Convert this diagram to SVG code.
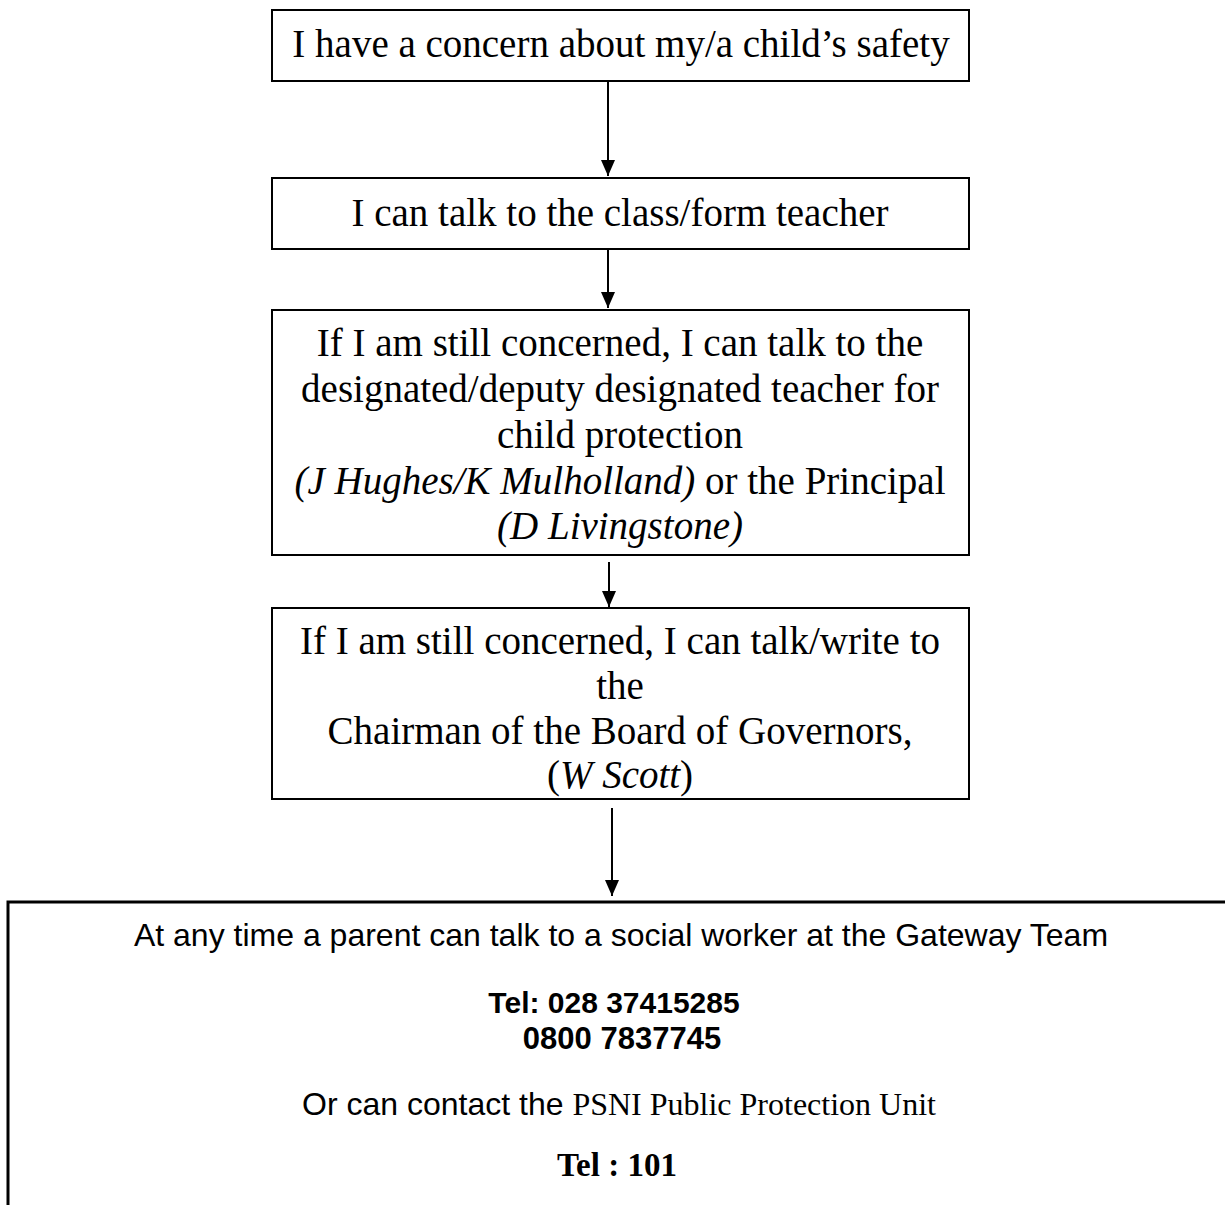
<svg xmlns="http://www.w3.org/2000/svg" width="1225" height="1205" viewBox="0 0 1225 1205">
<style>
.box{fill:#fff;stroke:#000;stroke-width:2}
.t{font-family:"Liberation Serif","Times New Roman",serif;font-size:39px;fill:#000;text-anchor:middle}
.a{font-family:"Liberation Sans",Arial,sans-serif;font-size:32px;fill:#000;text-anchor:middle}
.ab{font-family:"Liberation Sans",Arial,sans-serif;font-size:30px;font-weight:bold;fill:#000;text-anchor:middle}
.tb{font-family:"Liberation Serif","Times New Roman",serif;font-size:33px;font-weight:bold;fill:#000;text-anchor:middle}
.conn{stroke:#000;stroke-width:2;fill:none}
.head{fill:#000}
</style>
<rect width="1225" height="1205" fill="#fff"/>
<g id="connectors">
<line class="conn" x1="608" y1="81" x2="608" y2="176"/>
<polygon class="head" points="601,160 615,160 608,176"/>
<line class="conn" x1="608" y1="249" x2="608" y2="308"/>
<polygon class="head" points="601,292 615,292 608,308"/>
<line class="conn" x1="609" y1="562" x2="609" y2="607"/>
<polygon class="head" points="602,591 616,591 609,607"/>
<line class="conn" x1="612" y1="808" x2="612" y2="896"/>
<polygon class="head" points="605,880 619,880 612,896"/>
<polygon class="head" points="603,689 591,703 608,705"/>
</g>
<g id="n1">
<rect class="box" x="272" y="10" width="697" height="71"/>
<text class="t" x="621" y="57">I have a concern about my/a child’s safety</text>
</g>
<g id="n2">
<rect class="box" x="272" y="178" width="697" height="71"/>
<text class="t" x="620" y="226">I can talk to the class/form teacher</text>
</g>
<g id="n3">
<rect class="box" x="272" y="310" width="697" height="245"/>
<text class="t" x="620" y="356">If I am still concerned, I can talk to the</text>
<text class="t" x="620" y="402">designated/deputy designated teacher for</text>
<text class="t" x="620" y="448">child protection</text>
<text class="t" x="620" y="494"><tspan font-style="italic">(J Hughes/K Mulholland)</tspan> or the Principal</text>
<text class="t" x="620" y="539" font-style="italic">(D Livingstone)</text>
</g>
<g id="n4">
<rect class="box" x="272" y="608" width="697" height="191"/>
<text class="t" x="620" y="654">If I am still concerned, I can talk/write to</text>
<text class="t" x="620" y="699">the</text>
<text class="t" x="620" y="744">Chairman of the Board of Governors,</text>
<text class="t" x="620" y="788">(<tspan font-style="italic">W Scott</tspan>)</text>
</g>
<g id="n5">
<rect x="8" y="902" width="1240" height="340" fill="#fff" stroke="#000" stroke-width="3"/>
<text class="a" x="621" y="946">At any time a parent can talk to a social worker at the Gateway Team</text>
<text class="ab" x="614" y="1013">Tel: 028 37415285</text>
<text class="ab" x="622" y="1049" style="font-size:31px">0800 7837745</text>
<text class="a" x="619" y="1115">Or can contact the <tspan font-family="Liberation Serif, Times New Roman, serif">PSNI Public Protection Unit</tspan></text>
<text class="tb" x="617" y="1176">Tel : 101</text>
</g>
</svg>
